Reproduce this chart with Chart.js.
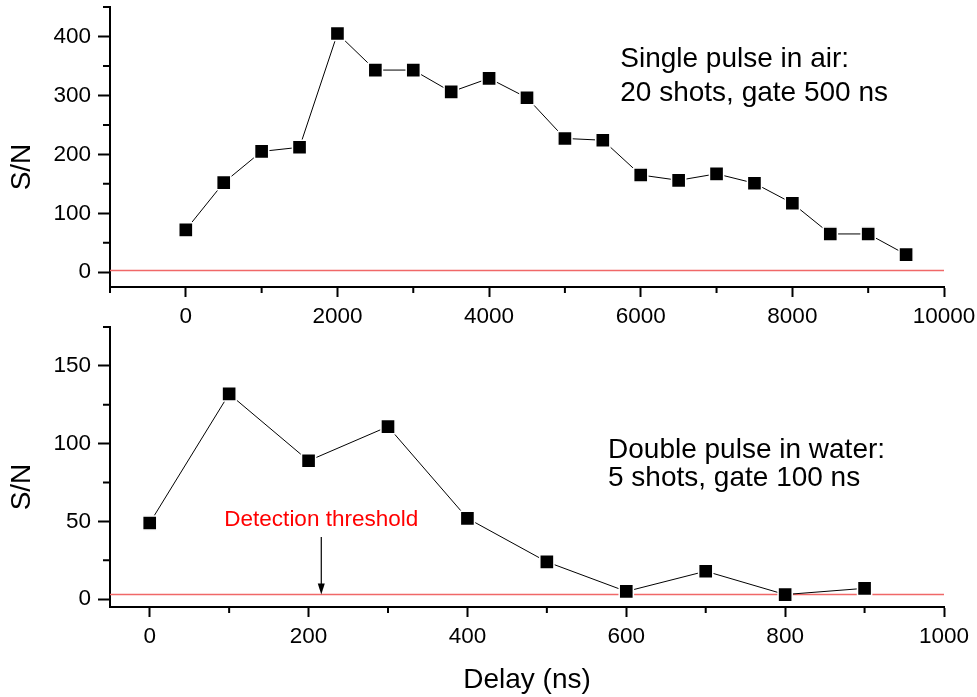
<!DOCTYPE html>
<html>
<head>
<meta charset="utf-8">
<script src="https://cdn.jsdelivr.net/npm/chart.js@4/dist/chart.umd.min.js"></script>
<style>
  body { margin: 0; background: #fff; }
  #wrap { position: relative; width: 977px; height: 697px; }
  canvas { position: absolute; left: 0; }
</style>
</head>
<body>
<div id="wrap">
  <canvas id="airChart" width="977" height="330" style="top:0"></canvas>
  <canvas id="waterChart" width="977" height="377" style="top:320px"></canvas>
</div>
<script>
// single pulse in air (top panel)
const airDelay = [0, 500, 1000, 1500, 2000, 2500, 3000, 3500, 4000, 4500, 5000, 5500, 6000, 6500, 7000, 7500, 8000, 8500, 9000, 9500];
const airSN = [72, 152, 205, 212, 405, 343, 343, 306, 329, 296, 227, 224, 165, 156, 167, 151, 117, 65, 65, 30];
const airTicksX = [0, 2000, 4000, 6000, 8000, 10000];
const airTicksY = [0, 100, 200, 300, 400];

// double pulse in water (bottom panel)
const waterDelay = [0, 100, 200, 300, 400, 500, 600, 700, 800, 900];
const waterSN = [49, 132, 89, 111, 52, 24, 5, 18, 3, 7];
const waterTicksX = [0, 200, 400, 600, 800, 1000];
const waterTicksY = [0, 50, 100, 150];

const threshold = 3;

const FONT = 'Arial, "Liberation Sans", sans-serif';

const extras = {
  id: 'extras',
  afterDraw(chart, args, o) {
    const ctx = chart.ctx;
    const xs = chart.scales.x, ys = chart.scales.y, a = chart.chartArea;
    ctx.save();
    // minor ticks
    ctx.strokeStyle = '#000';
    ctx.lineWidth = 2;
    ctx.beginPath();
    for (let v = o.xMinor[0]; v <= xs.max + 1e-9; v += o.xMinor[1]) {
      const px = xs.getPixelForValue(v);
      ctx.moveTo(px, a.bottom);
      ctx.lineTo(px, a.bottom + 6);
    }
    for (let v = o.yMinor[0]; v <= ys.max + 1e-9; v += o.yMinor[1]) {
      const py = ys.getPixelForValue(v);
      ctx.moveTo(a.left - 7, py);
      ctx.lineTo(a.left, py);
    }
    ctx.stroke();

    // y title
    ctx.fillStyle = '#000';
    ctx.font = '28px ' + FONT;
    ctx.textAlign = 'center';
    ctx.textBaseline = 'middle';
    ctx.save();
    ctx.translate(22, (a.top + a.bottom) / 2 + 20);
    ctx.rotate(-Math.PI / 2);
    ctx.fillText('S/N', 0, 0);
    ctx.restore();

    if (o.xTitle) {
      ctx.textBaseline = 'alphabetic';
      ctx.fillText(o.xTitle, (a.left + a.right) / 2, a.bottom + 81);
    }

    // notes
    (o.notes || []).forEach(n => {
      ctx.font = n.size + 'px ' + FONT;
      ctx.fillStyle = n.color || '#000';
      ctx.textAlign = n.align || 'left';
      ctx.textBaseline = 'alphabetic';
      ctx.fillText(n.text, xs.getPixelForValue(n.x), ys.getPixelForValue(n.y));
    });

    // arrow
    if (o.arrow) {
      const px = xs.getPixelForValue(o.arrow.x);
      const y1 = ys.getPixelForValue(o.arrow.from);
      const y2 = ys.getPixelForValue(o.arrow.to);
      ctx.strokeStyle = '#000';
      ctx.lineWidth = 1.2;
      ctx.beginPath();
      ctx.moveTo(px, y1);
      ctx.lineTo(px, y2 - 4);
      ctx.stroke();
      ctx.fillStyle = '#000';
      ctx.beginPath();
      ctx.moveTo(px, y2);
      ctx.lineTo(px - 3.5, y2 - 11);
      ctx.lineTo(px + 3.5, y2 - 11);
      ctx.closePath();
      ctx.fill();
    }
    ctx.restore();
  }
};

function makeChart(id, xs, ys, opts) {
  return new Chart(document.getElementById(id), {
    type: 'line',
    data: {
      datasets: [
        {
          data: xs.map((x, i) => ({ x: x, y: ys[i] })),
          borderColor: '#000',
          borderWidth: 1,
          pointStyle: 'rect',
          pointRadius: 10,
          pointBackgroundColor: '#000',
          pointBorderColor: '#fff',
          pointBorderWidth: 1.5,
          tension: 0,
          order: 1
        },
        {
          data: [{ x: opts.xMin, y: threshold }, { x: opts.xMax, y: threshold }],
          borderColor: '#f06868',
          borderWidth: 1.5,
          pointRadius: 0,
          order: 2
        }
      ]
    },
    options: {
      responsive: false,
      animation: false,
      layout: { autoPadding: false, padding: { top: 7, right: 33, left: 0, bottom: 0 } },
      plugins: {
        legend: { display: false },
        tooltip: { enabled: false },
        extras: opts.extras
      },
      scales: {
        x: {
          type: 'linear',
          min: opts.xMin,
          max: opts.xMax,
          afterBuildTicks: s => { s.ticks = opts.ticksX.map(v => ({ value: v })); },
          afterFit: s => { s.height = opts.xHeight; s.paddingLeft = 0; s.paddingRight = 0; },
          grid: { drawOnChartArea: false, drawTicks: true, tickLength: 10, tickWidth: 2, tickColor: '#000' },
          border: { color: '#000', width: 2 },
          ticks: { color: '#000', font: { family: FONT, size: 22.5 }, padding: 6, maxRotation: 0, callback: v => String(v) }
        },
        y: {
          min: opts.yMin,
          max: opts.yMax,
          afterBuildTicks: s => { s.ticks = opts.ticksY.map(v => ({ value: v })); },
          afterFit: s => { s.width = 110; s.paddingTop = 0; s.paddingBottom = 0; },
          grid: { drawOnChartArea: false, drawTicks: true, tickLength: 12, tickWidth: 2, tickColor: '#000' },
          border: { color: '#000', width: 2 },
          ticks: { color: '#000', font: { family: FONT, size: 22.5 }, padding: 7, callback: v => String(v) }
        }
      }
    },
    plugins: [extras]
  });
}

makeChart('airChart', airDelay, airSN, {
  xMin: -1000, xMax: 10000, yMin: -25, yMax: 450,
  ticksX: airTicksX, ticksY: airTicksY, xHeight: 43,
  extras: {
    xMinor: [-1000, 2000], yMinor: [50, 100],
    notes: [
      { text: 'Single pulse in air:', x: 5730, y: 348, size: 28 },
      { text: '20 shots, gate 500 ns', x: 5730, y: 291, size: 28 }
    ]
  }
});

makeChart('waterChart', waterDelay, waterSN, {
  xMin: -50, xMax: 1000, yMin: -5, yMax: 175,
  ticksX: waterTicksX, ticksY: waterTicksY, xHeight: 90,
  extras: {
    xMinor: [100, 200], yMinor: [25, 50],
    xTitle: 'Delay (ns)',
    notes: [
      { text: 'Double pulse in water:', x: 577, y: 91, size: 28 },
      { text: '5 shots, gate 100 ns', x: 577, y: 73, size: 28 },
      { text: 'Detection threshold', x: 216, y: 47, size: 22.5, color: '#ff0000', align: 'center' }
    ],
    arrow: { x: 216, from: 40, to: threshold }
  }
});
</script>
</body>
</html>
